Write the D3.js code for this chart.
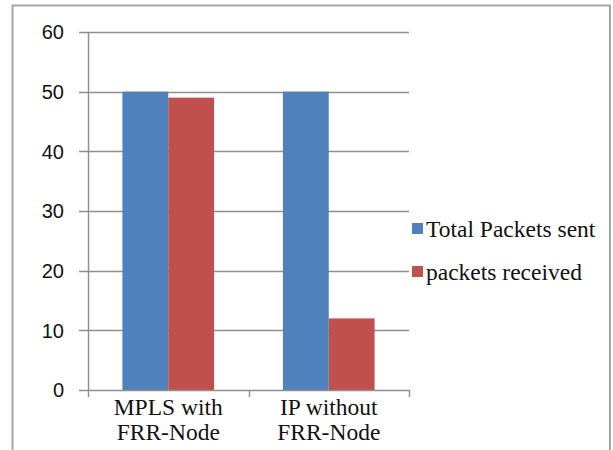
<!DOCTYPE html>
<html>
<head>
<meta charset="utf-8">
<script src="https://cdn.jsdelivr.net/npm/d3@7"></script>
<style>
  html, body { margin: 0; padding: 0; background: #fff; }
  svg { display: block; }
  .serif { font-family: "Liberation Serif", "Times New Roman", Times, Tinos, "DejaVu Serif", serif; }
  .sans { font-family: "Liberation Sans", Arial, sans-serif; }
</style>
</head>
<body>
<svg id="chart" width="613" height="450"></svg>
<script>
// Packet delivery comparison: MPLS with FRR vs plain IP
const categories = [["MPLS with", "FRR-Node"], ["IP without", "FRR-Node"]];
const seriesNames = ["Total Packets sent", "packets received"];
const totalSent = [50, 50];
const received = [49, 12];
const yTicks = [0, 10, 20, 30, 40, 50, 60];
const colors = ["#4F81BD", "#C0504D"];

const svg = d3.select("#chart");
const gridColor = "#8e8e8e";

// outer chart frame (bottom edge runs off the page)
svg.append("rect")
  .attr("x", 12.5).attr("y", 5.5)
  .attr("width", 597.5).attr("height", 470)
  .attr("fill", "#fff")
  .attr("stroke", "#a6a6a6").attr("stroke-width", 2);

const plot = { left: 88, right: 409, top: 32, bottom: 390 };

const y = d3.scaleLinear().domain([0, 60]).range([plot.bottom, plot.top]);
const catKeys = categories.map(c => c.join(" "));
const x = d3.scaleBand().domain(catKeys).range([plot.left, plot.right]).padding(0);
const xs = d3.scaleBand().domain(seriesNames).range([0, x.bandwidth()])
  .paddingInner(0).paddingOuter(0.75);

// horizontal gridlines with tick stubs
svg.append("g").selectAll("line").data(yTicks.filter(t => t > 0)).join("line")
  .attr("x1", plot.left - 9).attr("x2", plot.right)
  .attr("y1", d => Math.round(y(d)) + 0.5).attr("y2", d => Math.round(y(d)) + 0.5)
  .attr("stroke", gridColor).attr("stroke-width", 1.4);

// bars
const rows = catKeys.map((k, i) => ({ key: k, values: [totalSent[i], received[i]] }));
const groups = svg.append("g").selectAll("g").data(rows).join("g")
  .attr("transform", d => `translate(${x(d.key)},0)`);
groups.selectAll("rect").data(d => d.values.map((v, j) => ({ v, name: seriesNames[j], j })))
  .join("rect")
  .attr("x", d => xs(d.name))
  .attr("width", xs.bandwidth())
  .attr("y", d => y(d.v))
  .attr("height", d => y(0) - y(d.v))
  .attr("fill", d => colors[d.j]);

// y axis line
svg.append("line")
  .attr("x1", plot.left + 0.5).attr("x2", plot.left + 0.5)
  .attr("y1", plot.top).attr("y2", plot.bottom)
  .attr("stroke", gridColor).attr("stroke-width", 1.4);

// x axis line with category ticks
svg.append("line")
  .attr("x1", plot.left - 9).attr("x2", plot.right)
  .attr("y1", plot.bottom + 0.5).attr("y2", plot.bottom + 0.5)
  .attr("stroke", gridColor).attr("stroke-width", 1.4);
const catEdges = [plot.left, ...catKeys.map(k => x(k) + x.bandwidth())];
svg.append("g").selectAll("line").data(catEdges).join("line")
  .attr("x1", d => Math.round(d) + 0.5).attr("x2", d => Math.round(d) + 0.5)
  .attr("y1", plot.bottom).attr("y2", plot.bottom + 7)
  .attr("stroke", gridColor).attr("stroke-width", 1.4);

// y tick labels
svg.append("g").selectAll("text").data(yTicks).join("text")
  .attr("class", "sans")
  .attr("x", 64).attr("y", d => y(d))
  .attr("dy", "0.36em")
  .attr("text-anchor", "end")
  .attr("font-size", 20)
  .attr("fill", "#111")
  .text(d => d);

// category labels (two lines each)
const catText = svg.append("g").selectAll("text").data(categories).join("text")
  .attr("class", "serif")
  .attr("text-anchor", "middle")
  .attr("font-size", 23.5)
  .attr("fill", "#111");
catText.selectAll("tspan").data((d, i) => d.map(s => ({ s, i }))).join("tspan")
  .attr("x", d => x(catKeys[d.i]) + x.bandwidth() / 2)
  .attr("y", (d, j) => 415 + j * 25)
  .text(d => d.s);

// legend
const legend = svg.append("g").selectAll("g").data(seriesNames).join("g")
  .attr("transform", (d, i) => `translate(412,${229 + i * 43})`);
legend.append("rect")
  .attr("x", 0).attr("y", -6).attr("width", 11).attr("height", 11)
  .attr("fill", (d, i) => colors[i]);
legend.append("text")
  .attr("class", "serif")
  .attr("x", 14).attr("y", 0).attr("dy", "0.35em")
  .attr("font-size", 23.5)
  .attr("fill", "#111")
  .text(d => d);
</script>
</body>
</html>
